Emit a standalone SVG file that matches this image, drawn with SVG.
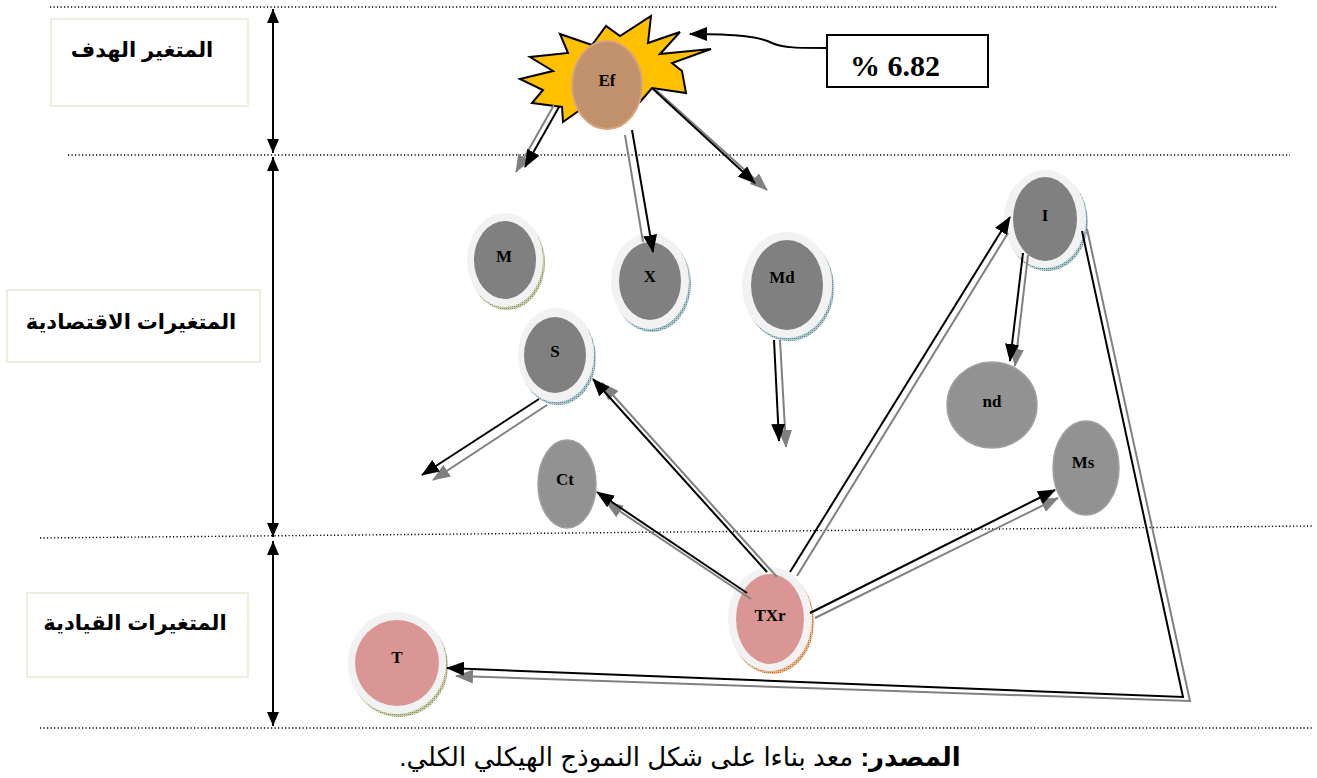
<svg xmlns="http://www.w3.org/2000/svg" width="1317" height="778" viewBox="0 0 1317 778">
  <style>
    .guide { stroke: #000; stroke-width: 1.4; stroke-dasharray: 1.2 2.3; fill: none; }
    .span { stroke: #000; stroke-width: 2; fill: none; marker-start: url(#vs); marker-end: url(#ve); }
    .lbox { fill: #fff; stroke: #eeeede; stroke-width: 2; }
    .ltxt { font-family: "Liberation Sans", "DejaVu Sans", sans-serif; font-weight: bold; font-size: 21px; fill: #000; }
    .ntxt { font-family: "Liberation Serif", "Times New Roman", serif; font-weight: bold; font-size: 17px; fill: #000; }
    .ring { fill: #f2f2f2; }
    .core { fill: #808080; }
    .pale { fill: #929292; stroke: #a0a0a0; stroke-width: 1.5; }
    .pink { fill: #d99694; }
    .sh-blue { fill: url(#dotBlue); }
    .sh-olive { fill: url(#dotOlive); }
    .sh-orange { fill: url(#dotOrange); }
    .blk { stroke: #000; stroke-width: 2; fill: none; }
    .gry { stroke: #808080; stroke-width: 2; fill: none; }
    .blk-a { marker-end: url(#hb); }
    .gry-a { marker-end: url(#hg); }
  </style>
  <defs>
    <pattern id="dotBlue" width="2" height="2" patternUnits="userSpaceOnUse">
      <rect width="2" height="2" fill="#a9c6cc"/>
      <rect width="1" height="1" fill="#5f8c98"/>
    </pattern>
    <pattern id="dotOlive" width="2" height="2" patternUnits="userSpaceOnUse">
      <rect width="2" height="2" fill="#c8cca6"/>
      <rect width="1" height="1" fill="#8a9260"/>
    </pattern>
    <pattern id="dotOrange" width="2" height="2" patternUnits="userSpaceOnUse">
      <rect width="2" height="2" fill="#eab48a"/>
      <rect width="1" height="1" fill="#c8702e"/>
    </pattern>
    <marker id="hb" markerUnits="userSpaceOnUse" markerWidth="18" markerHeight="14" viewBox="0 0 18 14" refX="17" refY="7" orient="auto">
      <path d="M0,0 L18,7 L0,14 z" fill="#000"/>
    </marker>
    <marker id="hg" markerUnits="userSpaceOnUse" markerWidth="18" markerHeight="14" viewBox="0 0 18 14" refX="17" refY="7" orient="auto">
      <path d="M0,0 L18,7 L0,14 z" fill="#808080"/>
    </marker>
    <marker id="ve" markerUnits="userSpaceOnUse" markerWidth="14" markerHeight="12" viewBox="0 0 14 12" refX="14" refY="6" orient="auto">
      <path d="M0,0 L14,6 L0,12 z" fill="#000"/>
    </marker>
    <marker id="vs" markerUnits="userSpaceOnUse" markerWidth="14" markerHeight="12" viewBox="0 0 14 12" refX="0" refY="6" orient="auto">
      <path d="M14,0 L0,6 L14,12 z" fill="#000"/>
    </marker>
  </defs>

  <rect width="1317" height="778" fill="#fff"/>

  <!-- horizontal band separators -->
  <g id="guides">
    <line class="guide" x1="50" y1="7" x2="1278" y2="7"/>
    <line class="guide" x1="68" y1="155" x2="1290" y2="155"/>
    <line class="guide" x1="40" y1="538" x2="1312" y2="526"/>
    <line class="guide" x1="40" y1="728" x2="1312" y2="728"/>
  </g>

  <!-- vertical extent arrows -->
  <g id="spans">
    <line class="span" x1="273" y1="9" x2="273" y2="153"/>
    <line class="span" x1="273" y1="157" x2="273" y2="537"/>
    <line class="span" x1="273" y1="541" x2="273" y2="726"/>
  </g>

  <!-- band labels -->
  <g id="band-target">
    <rect class="lbox" x="51" y="19" width="197" height="87"/>
    <text class="ltxt" x="142" y="57" text-anchor="middle" direction="rtl">المتغير الهدف</text>
  </g>
  <g id="band-economic">
    <rect class="lbox" x="7" y="290" width="253" height="72"/>
    <text class="ltxt" x="131" y="329" text-anchor="middle" direction="rtl">المتغيرات الاقتصادية</text>
  </g>
  <g id="band-policy">
    <rect class="lbox" x="27" y="593" width="221" height="84"/>
    <text class="ltxt" x="135" y="630" text-anchor="middle" direction="rtl">المتغيرات القيادية</text>
  </g>

  <!-- target node -->
  <g id="node-Ef">
    <polygon points="520,79 553,71 530,57 568,53 560,34 592,45 606,26 620,36 651,16 648,43 680,32 660,54 711,49 672,63 682,71 686,93 652,88 640,102 600,112 580,110 563,122 562,107 532,103 543,90" fill="#ffc000" stroke="#000" stroke-width="2" stroke-linejoin="miter"/>
    <ellipse cx="607" cy="85" rx="35" ry="44" fill="#c0916b" stroke="#d9a57e" stroke-width="2"/>
    <text class="ntxt" x="607" y="86" text-anchor="middle">Ef</text>
  </g>

  <g id="value-box">
    <rect x="827" y="35" width="161" height="52" fill="#fff" stroke="#000" stroke-width="2"/>
    <text x="895" y="76" text-anchor="middle" font-family="Liberation Serif, serif" font-weight="bold" font-size="30">% 6.82</text>
  </g>

  <!-- economic variables -->
  <g id="node-M">
    <ellipse class="sh-olive" cx="507" cy="263" rx="38" ry="47"/>
    <ellipse class="ring" cx="505" cy="260" rx="38" ry="47"/>
    <ellipse class="core" cx="505" cy="260" rx="31" ry="39"/>
    <text class="ntxt" x="504" y="262" text-anchor="middle">M</text>
  </g>
  <g id="node-X">
    <ellipse class="sh-blue" cx="652" cy="284" rx="39" ry="48"/>
    <ellipse class="ring" cx="650" cy="281" rx="39" ry="48"/>
    <ellipse class="core" cx="650" cy="281" rx="31" ry="39"/>
    <text class="ntxt" x="650" y="282" text-anchor="middle">X</text>
  </g>
  <g id="node-Md">
    <ellipse class="sh-blue" cx="789" cy="288" rx="45" ry="53"/>
    <ellipse class="ring" cx="787" cy="285" rx="45" ry="53"/>
    <ellipse class="core" cx="787" cy="285" rx="36" ry="45"/>
    <text class="ntxt" x="782" y="283" text-anchor="middle">Md</text>
  </g>
  <g id="node-S">
    <ellipse class="sh-blue" cx="558" cy="358" rx="38" ry="47"/>
    <ellipse class="ring" cx="556" cy="355" rx="38" ry="47"/>
    <ellipse class="core" cx="555" cy="355" rx="31" ry="38"/>
    <text class="ntxt" x="555" y="357" text-anchor="middle">S</text>
  </g>
  <g id="node-Ct">
    <ellipse class="pale" cx="567" cy="484" rx="29" ry="44"/>
    <text class="ntxt" x="565" y="485" text-anchor="middle">Ct</text>
  </g>
  <g id="node-I">
    <ellipse class="sh-blue" cx="1047" cy="222" rx="41" ry="49"/>
    <ellipse class="ring" cx="1045" cy="219" rx="41" ry="49"/>
    <ellipse class="core" cx="1045" cy="219" rx="32" ry="42"/>
    <text class="ntxt" x="1045" y="221" text-anchor="middle">I</text>
  </g>
  <g id="node-nd">
    <ellipse class="pale" cx="992" cy="405" rx="45" ry="43"/>
    <text class="ntxt" x="992" y="407" text-anchor="middle">nd</text>
  </g>
  <g id="node-Ms">
    <ellipse class="pale" cx="1086" cy="468" rx="33" ry="47"/>
    <text class="ntxt" x="1083" y="468" text-anchor="middle">Ms</text>
  </g>

  <!-- policy variables -->
  <g id="node-TXr">
    <ellipse class="sh-orange" cx="772" cy="622" rx="42" ry="52"/>
    <ellipse class="ring" cx="770" cy="619" rx="42" ry="52"/>
    <ellipse class="pink" cx="770" cy="619" rx="34" ry="45"/>
    <text class="ntxt" x="770" y="621" text-anchor="middle">TXr</text>
  </g>
  <g id="node-T">
    <ellipse class="sh-olive" cx="399" cy="666" rx="49" ry="51"/>
    <ellipse class="ring" cx="397" cy="663" rx="49" ry="51"/>
    <ellipse class="pink" cx="397" cy="663" rx="42" ry="43"/>
    <text class="ntxt" x="397" y="663" text-anchor="middle">T</text>
  </g>

  <!-- connectors: each link is a black line with a grey twin -->
  <g id="connectors">
    <path class="blk blk-a" d="M827,48 C800,48 782,48 772,43 C760,37 740,34 690,34"/>

    <line class="gry gry-a" x1="554" y1="105" x2="516" y2="172"/>
    <line class="blk blk-a" x1="559" y1="107" x2="525" y2="167"/>

    <line class="gry" x1="625" y1="135" x2="643" y2="242"/>
    <line class="blk blk-a" x1="632" y1="130" x2="653" y2="252"/>

    <line class="gry gry-a" x1="656" y1="90" x2="767" y2="190"/>
    <line class="blk blk-a" x1="652" y1="88" x2="755" y2="183"/>

    <line class="gry gry-a" x1="780" y1="340" x2="786" y2="447"/>
    <line class="blk blk-a" x1="774" y1="340" x2="779" y2="441"/>

    <line class="gry gry-a" x1="547" y1="405" x2="433" y2="480"/>
    <line class="blk blk-a" x1="539" y1="399" x2="422" y2="475"/>

    <line class="gry gry-a" x1="777" y1="577" x2="602" y2="383"/>
    <line class="blk blk-a" x1="767" y1="572" x2="593" y2="379"/>

    <line class="gry gry-a" x1="751" y1="599" x2="606" y2="502"/>
    <line class="blk blk-a" x1="747" y1="593" x2="597" y2="492"/>

    <line class="gry" x1="797" y1="576" x2="1008" y2="233"/>
    <line class="blk blk-a" x1="790" y1="572" x2="1010" y2="217"/>

    <line class="gry gry-a" x1="815" y1="618" x2="1058" y2="498"/>
    <line class="blk blk-a" x1="810" y1="613" x2="1055" y2="490"/>

    <line class="gry gry-a" x1="1028" y1="255" x2="1015" y2="366"/>
    <line class="blk blk-a" x1="1023" y1="253" x2="1010" y2="361"/>

    <polyline class="gry gry-a" points="1087,229 1190,701 456,676"/>
    <polyline class="blk blk-a" points="1082,231 1183,697 447,668"/>
  </g>

  <!-- source line -->
  <text x="680" y="766" text-anchor="middle" direction="rtl" font-family="Liberation Sans, DejaVu Sans, sans-serif" font-size="26"><tspan font-weight="bold">المصدر:</tspan> معد بناءا على شكل النموذج الهيكلي الكلي.</text>
</svg>
